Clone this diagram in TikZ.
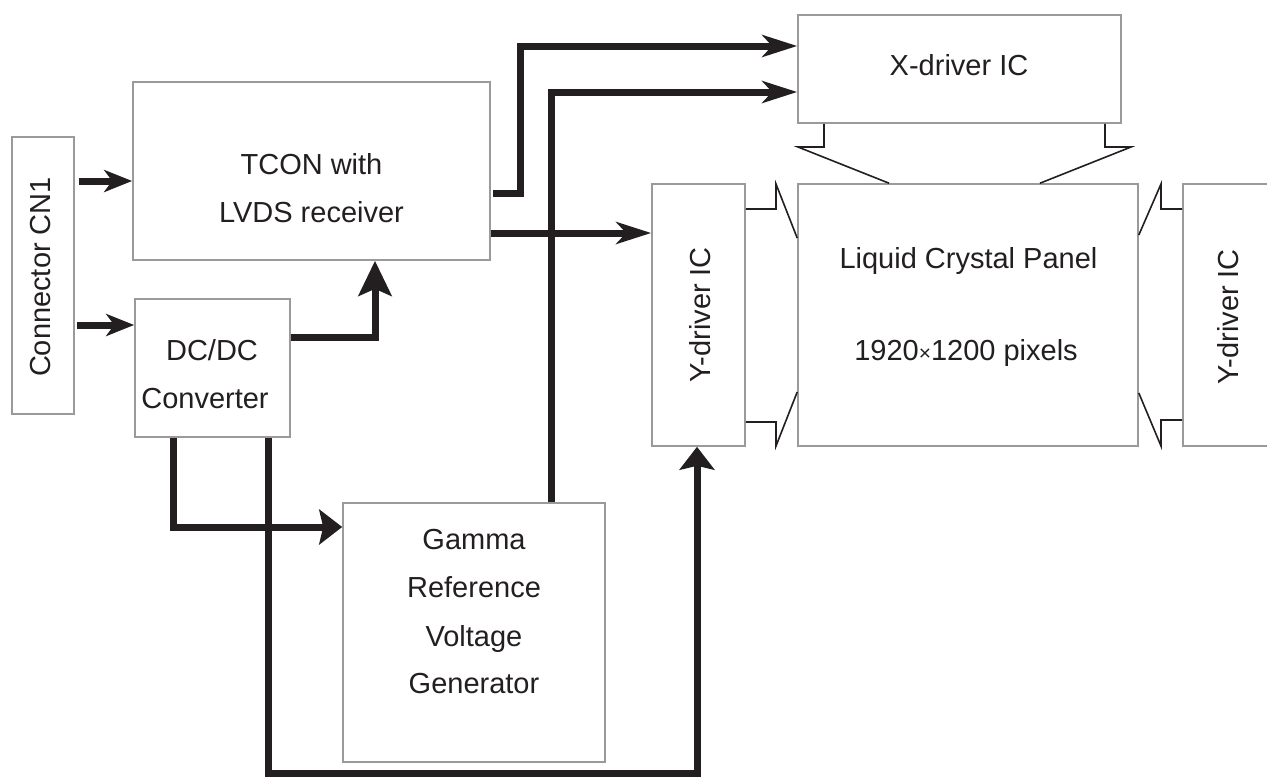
\documentclass[tikz,border=0pt]{standalone}
\usepackage{fontspec}
\setmainfont{Liberation Sans}
\usetikzlibrary{arrows.meta}
\definecolor{ink}{HTML}{231F20}
\definecolor{edge}{HTML}{9A9A9A}
\begin{document}
\begin{tikzpicture}[x=1pt,y=-1pt,
  box/.style={draw=edge,line width=1.6pt,inner sep=0pt,fill=white},
  lbl/.style={text=ink,font=\fontsize{29}{48}\selectfont,inner sep=0pt},
  ln/.style={lbl,anchor=base},
  arr/.style n args={3}{draw=ink,line width=7pt,-{Stealth[length=#1,width=#2,inset=#3]}},
  thin/.style={draw=ink,line width=1.6pt}]
\clip (0,0) rectangle (1267,780);
\useasboundingbox (0,0) rectangle (1267,780);
\fill[white] (0,0) rectangle (1267,780);
% boxes
\node[box,minimum width=62pt,minimum height=277pt] (cn) at (43,275.5) {};
\node[box,minimum width=357pt,minimum height=178pt] (tc) at (311.5,171) {};
\node[box,minimum width=155pt,minimum height=138pt] (dc) at (212.5,368) {};
\node[box,minimum width=262pt,minimum height=259pt] (gm) at (474,632.5) {};
\node[box,minimum width=323pt,minimum height=108pt] (xd) at (959.5,69) {};
\node[box,minimum width=93pt,minimum height=262pt] (yl) at (698.5,315) {};
\node[box,minimum width=340pt,minimum height=262pt] (lc) at (968,315) {};
\node[box,minimum width=110pt,minimum height=262pt] (yr) at (1238,315) {};
% labels
\node[lbl,rotate=90] (cnt) at (41,277) {Connector CN1};
\node[ln] (tct1) at (311.5,174) {TCON with};
\node[ln] (tct2) at (311.5,222) {LVDS receiver};
\node[ln] (dct1) at (212,360) {DC/DC};
\node[ln] (dct2) at (205,408) {Converter};
\node[ln] (gmt1) at (474,549) {Gamma};
\node[ln] (gmt2) at (474,597) {Reference};
\node[ln] (gmt3) at (474,646) {Voltage};
\node[ln] (gmt4) at (474,693) {Generator};
\node[ln] (xdt) at (959,75) {X-driver IC};
\node[ln] (lct1) at (968.5,268) {Liquid Crystal Panel};
\node[ln] (lct2) at (966,360) {1920{\fontsize{21}{21}\selectfont ×}1200 pixels};
\node[lbl,rotate=90] (ylt) at (700,315) {Y-driver IC};
\node[lbl,rotate=90] (yrt) at (1228.5,317) {Y-driver IC};
% thick arrows
\draw[arr={28pt}{22pt}{8pt},shorten <=4pt] (cn.east |- 0,181) -- (tc.west |- 0,181);
\draw[arr={28pt}{22pt}{8pt},shorten <=2pt] (cn.east |- 0,325) -- (dc.west |- 0,325);
\draw[arr={35pt}{33pt}{7pt}] (dc.east |- 0,337) -| (tc.south -| 375,0);
\draw[arr={35pt}{22pt}{10pt},shorten <=2pt] (tc.east |- 0,193) -- (520,193) |- (xd.west |- 0,46);
\draw[arr={35pt}{22pt}{10pt}] (gm.north -| 551,0) |- (xd.west |- 0,92);
\draw[arr={35pt}{22pt}{10pt}] (tc.east |- 0,233) -- (yl.west |- 0,233);
\draw[arr={23pt}{35pt}{4pt}] (dc.south -| 173,0) |- (gm.west |- 0,527);
\draw[arr={23pt}{35pt}{4pt}] (dc.south -| 268,0) |- (697,773) -- (yl.south -| 697,0);
% thin connectors
\draw[thin] (xd.south -| 824,0) -- (824,147) -- (798,147) -- (lc.north -| 889,0);
\draw[thin] (xd.south -| 1105,0) -- (1105,147) -- (1131,147) -- (lc.north -| 1040,0);
\draw[thin] (yl.east |- 0,209) -- (776,209) -- (776,184) -- (lc.west |- 0,238);
\draw[thin] (yl.east |- 0,422) -- (776,422) -- (776,446) -- (lc.west |- 0,392);
\draw[thin] (yr.west |- 0,209) -- (1161,209) -- (1161,184) -- (lc.east |- 0,235);
\draw[thin] (yr.west |- 0,420) -- (1161,420) -- (1161,446) -- (lc.east |- 0,393);
\end{tikzpicture}
\end{document}
